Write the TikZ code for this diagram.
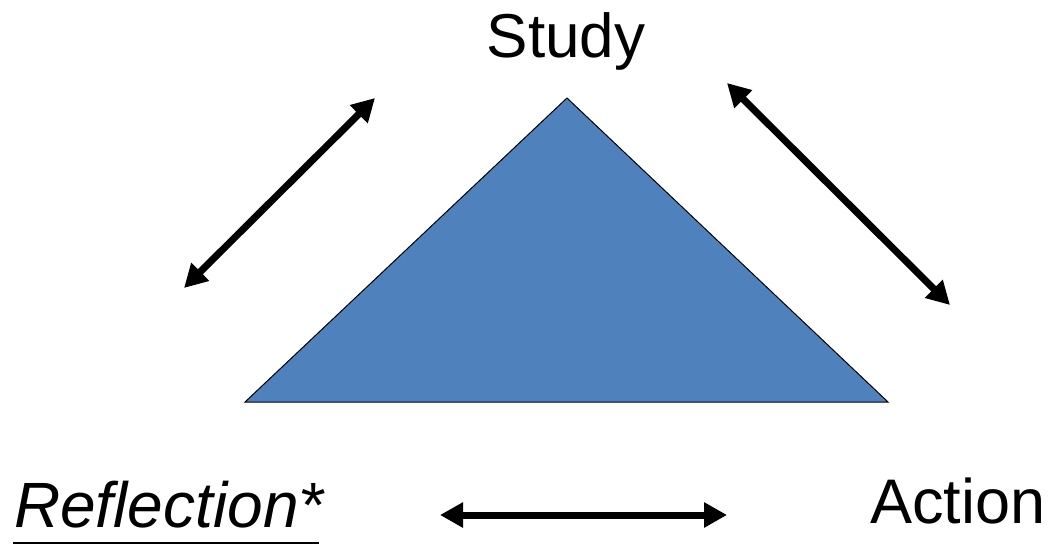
\documentclass[tikz,border=0pt]{standalone}
\usepackage{fontspec}
\setmainfont{Liberation Sans}
\usetikzlibrary{arrows.meta}
\definecolor{triblue}{HTML}{4F81BD}
\tikzset{
  dblarrow/.style={line width=7pt, {Triangle[length=23pt,width=24pt]}-{Triangle[length=23pt,width=24pt]}},
  labeltext/.style={inner sep=0pt, font=\fontsize{63}{75}\selectfont}
}
\begin{document}
\begin{tikzpicture}[x=1pt,y=-1pt]
\useasboundingbox (0,0) rectangle (1052,546);
% triangle
\coordinate (apex) at (567,98);
\coordinate (bl) at (245,402);
\coordinate (br) at (888,402);
\filldraw[fill=triblue, draw=black, line width=1pt, line join=miter] (apex) -- (br) -- (bl) -- cycle;
% labels
\node[labeltext, font=\fontsize{62}{74}\selectfont, anchor=base] (study) at (566,57) {Study};
\node[labeltext, anchor=base west] (action) at (870,523) {Action};
\node[labeltext, font=\fontsize{64}{76}\selectfont, anchor=base west] (refl) at (14,527) {\itshape Reflection*};
\draw[line width=2pt] ([shift={(-1pt,-16pt)}]refl.base west) -- ([shift={(-5pt,-16pt)}]refl.base east);
% arrows
\coordinate (la) at (184,288);
\coordinate (lb) at (375,98);
\coordinate (ra) at (727,83);
\coordinate (rb) at (950,305);
\coordinate (ba) at (440,515);
\coordinate (bb) at (727,515);
\draw[dblarrow] (la) -- (lb);
\draw[dblarrow] (ra) -- (rb);
\draw[dblarrow] (ba) -- (bb);
\end{tikzpicture}
\end{document}
